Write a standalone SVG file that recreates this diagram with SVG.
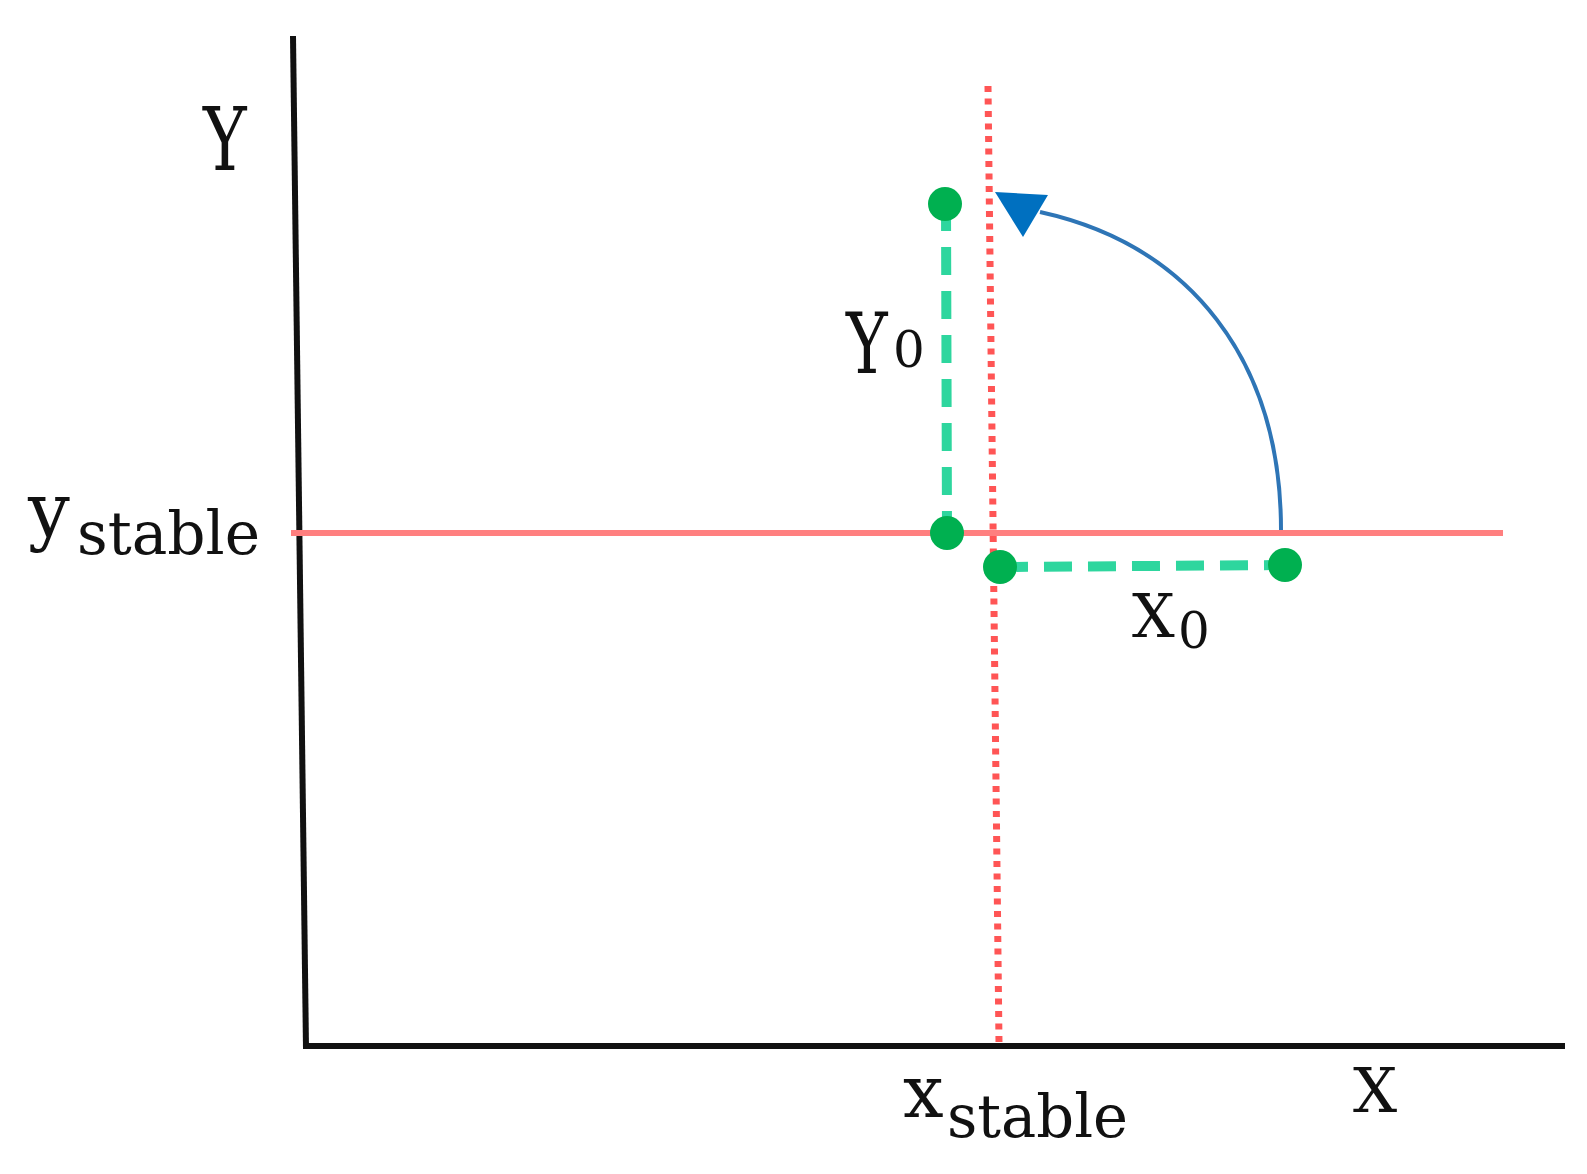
<svg xmlns="http://www.w3.org/2000/svg" width="1587" height="1174" viewBox="0 0 1587 1174">
  <style>
    .axis { stroke: #111111; stroke-width: 6; fill: none; }
    .ref { stroke: #FF7F7F; stroke-width: 6; fill: none; }
    .refdot { stroke: #FF5555; stroke-width: 7; stroke-dasharray: 6 6.5; fill: none; }
    .dash { stroke: #2ED69E; stroke-width: 10; stroke-dasharray: 28 16; fill: none; }
    .pt { fill: #00B050; }
    .arc { stroke: #2E75B6; stroke-width: 4; fill: none; }
    .lbl { font-family: "DejaVu Serif", "Liberation Serif", serif; fill: #111111; }
  </style>
  <rect x="0" y="0" width="1587" height="1174" fill="#FFFFFF"/>

  <g id="axes">
    <line class="axis" x1="293" y1="36" x2="306" y2="1049"/>
    <line class="axis" x1="303" y1="1046" x2="1565" y2="1046"/>
  </g>

  <g id="reference-lines">
    <line class="ref" x1="291" y1="533" x2="1503" y2="533"/>
    <line class="refdot" x1="988" y1="86" x2="999" y2="1043"/>
  </g>

  <g id="connectors">
    <line class="dash" x1="946" y1="203" x2="947" y2="533"/>
    <line class="dash" x1="1000" y1="567" x2="1285" y2="565"/>
    <path class="arc" d="M 1281 530 C 1281 360 1190 245 1040 212"/>
    <polygon points="995,192 1048,195 1023,237" fill="#0070C0"/>
  </g>

  <g id="point-top"><circle class="pt" cx="945" cy="204" r="17"/></g>
  <g id="point-left"><circle class="pt" cx="947" cy="533" r="17"/></g>
  <g id="point-bottom"><circle class="pt" cx="1000" cy="567" r="17"/></g>
  <g id="point-right"><circle class="pt" cx="1285" cy="565" r="17"/></g>

  <g id="labels">
    <text class="lbl" transform="translate(203,170) scale(0.75,1)" x="0" y="0" font-size="88">Y</text>
    <text class="lbl" x="28" y="536" font-size="74">y<tspan x="77" y="554" font-size="60" textLength="183" lengthAdjust="spacingAndGlyphs">stable</tspan></text>
    <text class="lbl" transform="translate(846,373) scale(0.75,1)" x="0" y="0" font-size="84">Y</text>
    <text class="lbl" x="893" y="367" font-size="50">0</text>
    <text class="lbl" x="1132" y="637" font-size="60">X<tspan x="1178" y="648" font-size="50">0</tspan></text>
    <text class="lbl" x="1353" y="1112" font-size="62">X</text>
    <text class="lbl" x="903" y="1117" font-size="72">x<tspan x="947" y="1137" font-size="60" textLength="181" lengthAdjust="spacingAndGlyphs">stable</tspan></text>
  </g>
</svg>
